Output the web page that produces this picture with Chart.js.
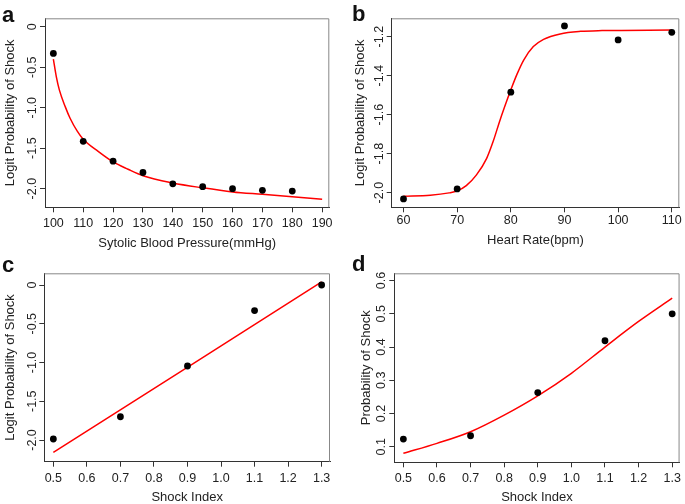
<!DOCTYPE html>
<html>
<head>
<meta charset="utf-8">
<script src="https://cdn.jsdelivr.net/npm/chart.js@4.4.1/dist/chart.umd.min.js"></script>
<style>
  body { margin: 0; background: #fff; }
  #wrap { position: relative; width: 685px; height: 504px; overflow: hidden; }
  canvas { position: absolute; }
  .tag { position: absolute; font: bold 22px "Liberation Sans", Arial, sans-serif; color: #111; line-height: 1; }
</style>
</head>
<body>
<div id="wrap">
  <canvas id="pa" width="342" height="252" style="left:0;top:0"></canvas>
  <canvas id="pb" width="343" height="252" style="left:342px;top:0"></canvas>
  <canvas id="pc" width="342" height="252" style="left:0;top:252px"></canvas>
  <canvas id="pd" width="343" height="252" style="left:342px;top:252px"></canvas>
  <div class="tag" style="left:2px;top:4px">a</div>
  <div class="tag" style="left:352px;top:3px">b</div>
  <div class="tag" style="left:2px;top:254px">c</div>
  <div class="tag" style="left:352px;top:253px">d</div>
</div>
<script>
// panel a - systolic blood pressure
const sbpX = [100, 110, 120, 130, 140, 150, 160, 170, 180];
const sbpY = [-0.33, -1.415, -1.66, -1.80, -1.94, -1.975, -2.00, -2.02, -2.03];
const sbpFitX = [100, 101, 102, 104, 105.6, 108, 110, 115, 120, 125, 130, 140, 150, 160, 170, 180, 190];
const sbpFitY = [-0.40, -0.62, -0.78, -0.99, -1.13, -1.29, -1.39, -1.54, -1.67, -1.76, -1.84, -1.93, -1.99, -2.04, -2.07, -2.10, -2.13];
const sbpXTicks = [100, 110, 120, 130, 140, 150, 160, 170, 180, 190];
const sbpYTicks = [0, -0.5, -1.0, -1.5, -2.0];
const sbpYLabels = ['0', '-0.5', '-1.0', '-1.5', '-2.0'];

// panel b - heart rate
const hrX = [60, 70, 80, 90, 100, 110];
const hrY = [-2.032, -1.981, -1.485, -1.145, -1.217, -1.178];
const hrFitX = [60, 65, 68.5, 70, 71.7, 73.6, 75.5, 76.7, 78, 79.3, 80, 81.1, 82.4, 84.2, 86.1, 89.2, 93, 97, 110];
const hrFitY = [-2.018, -2.013, -2.001, -1.991, -1.964, -1.909, -1.824, -1.738, -1.627, -1.525, -1.473, -1.396, -1.32, -1.251, -1.214, -1.186, -1.173, -1.169, -1.166];
const hrXTicks = [60, 70, 80, 90, 100, 110];
const hrYTicks = [-1.2, -1.4, -1.6, -1.8, -2.0];
const hrYLabels = ['-1.2', '-1.4', '-1.6', '-1.8', '-2.0'];

// panel c - shock index, logit
const siX = [0.5, 0.7, 0.9, 1.1, 1.3];
const siLogitY = [-1.987, -1.70, -1.045, -0.33, 0.0];
const siLogitFitX = [0.5, 1.3];
const siLogitFitY = [-2.16, 0.04];
const siXTicks = [0.5, 0.6, 0.7, 0.8, 0.9, 1.0, 1.1, 1.2, 1.3];
const siXLabels = ['0.5', '0.6', '0.7', '0.8', '0.9', '1.0', '1.1', '1.2', '1.3'];
const siLogitYTicks = [0, -0.5, -1.0, -1.5, -2.0];
const siLogitYLabels = ['0', '-0.5', '-1.0', '-1.5', '-2.0'];

// panel d - shock index, probability
const siProbY = [0.123, 0.133, 0.263, 0.419, 0.50];
const siProbFitX = [0.5, 0.6, 0.7, 0.8, 0.9, 1.0, 1.1, 1.2, 1.3];
const siProbFitY = [0.080, 0.110, 0.145, 0.195, 0.253, 0.321, 0.40, 0.477, 0.547];
const siProbYTicks = [0.1, 0.2, 0.3, 0.4, 0.5, 0.6];
const siProbYLabels = ['0.1', '0.2', '0.3', '0.4', '0.5', '0.6'];

const FONT = '"Liberation Sans", Arial, sans-serif';
const INK = '#222';

const frame = {
  id: 'frame',
  afterDraw(chart, args, opts) {
    const { ctx, chartArea: a } = chart;
    const y = chart.scales.y;
    ctx.save();
    ctx.strokeStyle = '#888';
    ctx.lineWidth = 1;
    ctx.beginPath();
    ctx.moveTo(a.left, a.top + 0.5);
    ctx.lineTo(a.right - 0.5, a.top + 0.5);
    ctx.lineTo(a.right - 0.5, a.bottom);
    ctx.stroke();
    // R style vertical tick labels
    ctx.fillStyle = INK;
    ctx.font = '12.5px ' + FONT;
    ctx.textAlign = 'center';
    ctx.textBaseline = 'middle';
    y.ticks.forEach(t => {
      ctx.save();
      ctx.translate(a.left - opts.gap, y.getPixelForValue(t.value));
      ctx.rotate(-Math.PI / 2);
      ctx.fillText(t.label, 0, 0);
      ctx.restore();
    });
    ctx.restore();
  }
};

function toPts(xs, ys) {
  return xs.map((x, i) => ({ x: x, y: ys[i] }));
}

function panel(id, p) {
  new Chart(document.getElementById(id), {
    type: 'scatter',
    data: {
      datasets: [{
        data: toPts(p.fitX, p.fitY),
        showLine: true,
        borderColor: '#ff0000',
        borderWidth: 1.5,
        pointRadius: 0,
        cubicInterpolationMode: 'monotone',
        order: 2
      }, {
        data: toPts(p.x, p.y),
        backgroundColor: '#000',
        borderWidth: 0,
        pointRadius: 3.4,
        order: 1
      }]
    },
    options: {
      responsive: false,
      animation: false,
      devicePixelRatio: 1,
      layout: { padding: { left: 0, top: p.top, right: p.right, bottom: 0 } },
      plugins: { legend: { display: false }, tooltip: { enabled: false }, frame: { gap: p.gap } },
      scales: {
        x: {
          type: 'linear',
          min: p.xMin, max: p.xMax,
          afterBuildTicks: s => { s.ticks = p.xTicks.map(v => ({ value: v })); },
          afterFit: s => { s.height = p.xH; },
          border: { display: true, color: '#333', width: 1 },
          grid: { drawOnChartArea: false, drawTicks: true, tickLength: 5, color: '#333' },
          ticks: {
            color: INK, font: { family: FONT, size: 12.5 }, padding: p.xPad, maxRotation: 0, autoSkip: false,
            callback: (v, i) => p.xLabels ? p.xLabels[i] : String(v)
          },
          title: {
            display: true, text: p.xTitle, color: INK,
            font: { family: FONT, size: 13, lineHeight: 1 }, padding: { top: 0, bottom: p.xTitlePad }
          }
        },
        y: {
          type: 'linear',
          min: p.yMin, max: p.yMax,
          afterBuildTicks: s => { s.ticks = p.yTicks.map(v => ({ value: v })); },
          afterFit: s => { s.width = p.yW; },
          border: { display: true, color: '#333', width: 1 },
          grid: { drawOnChartArea: false, drawTicks: true, tickLength: 5, color: '#333' },
          ticks: {
            display: false,
            callback: (v, i) => p.yLabels[i]
          },
          title: {
            display: true, text: p.yTitle, color: INK,
            font: { family: FONT, size: 13, lineHeight: 1 }, padding: { top: p.yTitlePad, bottom: 0 }
          }
        }
      }
    },
    plugins: [frame]
  });
}

panel('pa', {
  x: sbpX, y: sbpY, fitX: sbpFitX, fitY: sbpFitY,
  xTicks: sbpXTicks, yTicks: sbpYTicks, yLabels: sbpYLabels,
  xMin: 97.2, xMax: 192.4, yMin: -2.23, yMax: 0.104,
  xTitle: 'Sytolic Blood Pressure(mmHg)', yTitle: 'Logit Probability of Shock',
  top: 18.3, right: 12.7, yW: 45, xH: 44.7, xPad: 4, gap: 12.5, xTitlePad: 2.2, yTitlePad: 3.5
});

panel('pb', {
  x: hrX, y: hrY, fitX: hrFitX, fitY: hrFitY,
  xTicks: hrXTicks, yTicks: hrYTicks, yLabels: hrYLabels,
  xMin: 57.8, xMax: 111.4, yMin: -2.075, yMax: -1.106,
  xTitle: 'Heart Rate(bpm)', yTitle: 'Logit Probability of Shock',
  top: 18.3, right: 5.7, yW: 49.7, xH: 44.7, xPad: 1, gap: 12.5, xTitlePad: 4.8, yTitlePad: 11.5
});

panel('pc', {
  x: siX, y: siLogitY, fitX: siLogitFitX, fitY: siLogitFitY,
  xTicks: siXTicks, xLabels: siXLabels, yTicks: siLogitYTicks, yLabels: siLogitYLabels,
  xMin: 0.473, xMax: 1.325, yMin: -2.28, yMax: 0.151,
  xTitle: 'Shock Index', yTitle: 'Logit Probability of Shock',
  top: 21.3, right: 12, yW: 44.3, xH: 42.3, xPad: 4, gap: 11.5, xTitlePad: 0, yTitlePad: 3.5
});

panel('pd', {
  x: siX, y: siProbY, fitX: siProbFitX, fitY: siProbFitY,
  xTicks: siXTicks, xLabels: siXLabels, yTicks: siProbYTicks, yLabels: siProbYLabels,
  xMin: 0.473, xMax: 1.322, yMin: 0.053, yMax: 0.622,
  xTitle: 'Shock Index', yTitle: 'Probability of Shock',
  top: 21.3, right: 5, yW: 52.3, xH: 41.7, xPad: 4, gap: 12.5, xTitlePad: 0.2, yTitlePad: 17.5
});
</script>
</body>
</html>
